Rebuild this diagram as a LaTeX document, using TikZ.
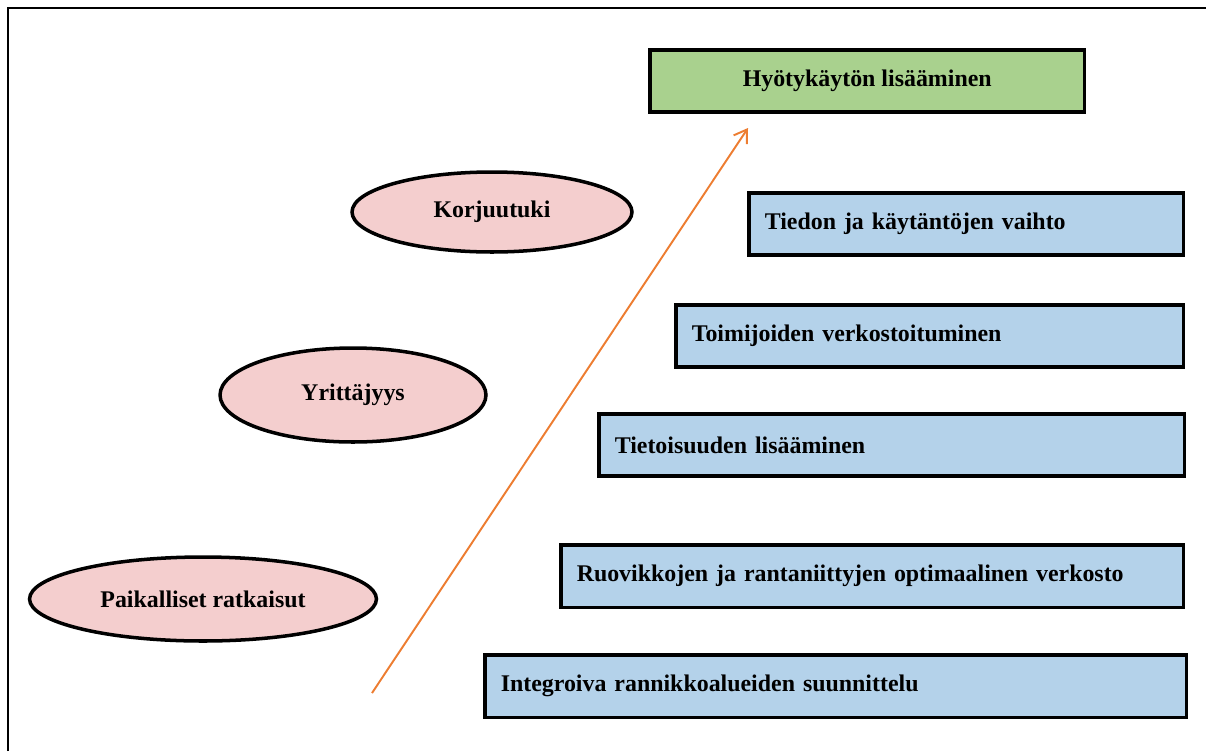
\documentclass[tikz,border=0pt]{standalone}
\usepackage{fontspec}
\setmainfont{Liberation Serif}
\usetikzlibrary{shapes.geometric,arrows.meta}
\definecolor{vihrea}{RGB}{169,209,142}
\definecolor{sininen}{RGB}{180,210,234}
\definecolor{roosa}{RGB}{244,206,206}
\definecolor{oranssi}{RGB}{237,125,49}
\tikzset{
  tavoite/.style={draw,line width=2pt,fill=sininen,rectangle,anchor=north west,
    minimum height=1.25cm,inner xsep=0.32cm,align=left,
    font=\fontsize{13.6}{16}\selectfont\bfseries},
  keino/.style={draw,line width=2pt,fill=roosa,ellipse,inner sep=0pt,
    font=\fontsize{13.6}{16}\selectfont\bfseries},
}
\begin{document}
\begin{tikzpicture}[x=0.02cm,y=-0.02cm]
                \useasboundingbox (0,0) rectangle (1206,751);
                \draw[line width=1.6pt] (8,751) -- (8,8) -- (1206,8);
                % tavoite ylhaalla
                \node[tavoite,fill=vihrea,minimum width=8.70cm,align=center] (hyoty) at (648,48) {Hyötykäytön lisääminen};
                % keinot
                \node[tavoite,minimum width=8.70cm,text width=8.06cm] (tiedon) at (747,191) {Tiedon ja käytäntöjen vaihto};
                \node[tavoite,minimum width=10.16cm,text width=9.52cm] (toimijat) at (674,303) {Toimijoiden verkostoituminen};
                \node[tavoite,minimum width=11.72cm,text width=11.08cm] (tietoisuus) at (597,412) {Tietoisuuden lisääminen};
                \node[tavoite,minimum width=12.46cm,text width=11.82cm] (ruovikot) at (559,543) {Ruovikkojen ja rantaniittyjen optimaalinen verkosto};
                \node[tavoite,minimum width=14.04cm,text width=13.40cm] (integroiva) at (483,653) {Integroiva rannikkoalueiden suunnittelu};
                % ellipsit
                \node[keino,minimum width=5.60cm,minimum height=1.60cm] (korjuu) at (492,212) {Korjuutuki};
                \node[keino,minimum width=5.32cm,minimum height=1.88cm] (yrittajyys) at (353,395) {Yrittäjyys};
                \node[keino,minimum width=6.94cm,minimum height=1.68cm] (paikalliset) at (203,599) {Paikalliset ratkaisut};
                % nuoli
                \coordinate (alku) at (372,693);
                \coordinate (loppu) at (748,128);
                \draw[oranssi,line width=1.1pt,-{Straight Barb[length=7pt,width=9pt]}] (alku) -- (loppu);
            \end{tikzpicture}
\end{document}
